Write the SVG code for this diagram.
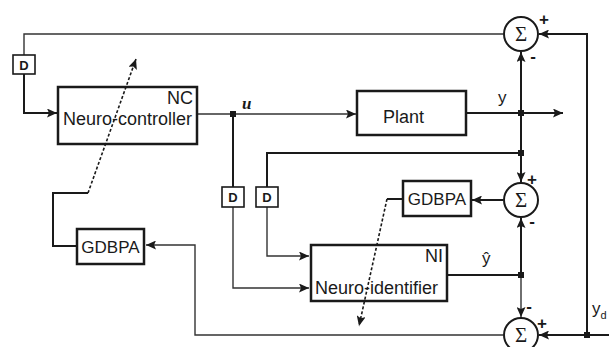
<svg xmlns="http://www.w3.org/2000/svg" width="609" height="347" viewBox="0 0 609 347">
<defs>
<marker id="ah" markerUnits="userSpaceOnUse" markerWidth="11" markerHeight="9" refX="10" refY="4.5" orient="auto">
<path d="M0,0 L10,4.5 L0,9 L2,4.5 z" fill="#1a1a1a"/>
</marker>
<style>
.box{fill:#fff;stroke:#1a1a1a;stroke-width:2.5}
.dbox{fill:#fff;stroke:#1a1a1a;stroke-width:1.6}
.ln{fill:none;stroke:#1a1a1a;stroke-width:2}
.thin{fill:none;stroke:#333;stroke-width:1.4}
.dot{fill:none;stroke:#1a1a1a;stroke-width:1.6;stroke-dasharray:3 2}
.sum{fill:#fff;stroke:#1a1a1a;stroke-width:2}
.t{font-family:"Liberation Sans",Arial,sans-serif;font-size:18px;fill:#1a1a1a}
.g{font-family:"Liberation Sans",Arial,sans-serif;font-size:17px;fill:#1a1a1a}
.d{font-family:"Liberation Sans",Arial,sans-serif;font-size:13px;font-weight:bold;fill:#1a1a1a}
.s{font-family:"Liberation Serif","Times New Roman",serif;font-size:21px;fill:#1a1a1a}
.pm{font-family:"Liberation Sans",Arial,sans-serif;font-size:17px;font-weight:bold;fill:#1a1a1a}
.jn{fill:#1a1a1a}
</style>
</defs>
<g id="connectors">
<path class="thin" d="M503,34 H24 V55"/>
<path class="ln" d="M24,74 V113 H57" marker-end="url(#ah)"/>
<path class="thin" d="M197,114 H356" marker-end="url(#ah)"/>
<path class="ln" d="M233,114 V187"/>
<path class="thin" d="M233,207 V288 H309" marker-end="url(#ah)"/>
<path class="ln" d="M466,113 H563" marker-end="url(#ah)"/>
<path class="ln" d="M521,113 V52" marker-end="url(#ah)"/>
<path class="ln" d="M521,113 V182" marker-end="url(#ah)"/>
<path class="ln" d="M521,153 H267 V187"/>
<path class="thin" d="M267,207 V256 H309" marker-end="url(#ah)"/>
<path class="ln" d="M503,200 H472" marker-end="url(#ah)"/>
<path class="ln" d="M403,199 H387"/>
<path class="ln" d="M447,275 H521"/>
<path class="ln" d="M521,275 V218" marker-end="url(#ah)"/>
<path class="thin" d="M521,275 V317" marker-end="url(#ah)"/>
<path class="ln" d="M609,335 H539" marker-end="url(#ah)"/>
<path class="ln" d="M587,335 V34 H539" marker-end="url(#ah)"/>
<path class="thin" d="M503,335 H195 V245 H146" marker-end="url(#ah)"/>
<path class="ln" d="M77,246 H53 V193 H88"/>
<rect class="jn" x="230" y="111" width="6" height="6"/>
<rect class="jn" x="518" y="110" width="6" height="6"/>
<rect class="jn" x="518" y="150" width="6" height="6"/>
<rect class="jn" x="518" y="272" width="6" height="6"/>
<rect class="jn" x="584" y="332" width="6" height="6"/>
</g>
<g id="D1"><rect class="dbox" x="13" y="55" width="22" height="19"/><text class="d" x="24" y="69.5" text-anchor="middle">D</text></g>
<g id="D2"><rect class="dbox" x="222" y="187" width="22" height="20"/><text class="d" x="233" y="202" text-anchor="middle">D</text></g>
<g id="D3"><rect class="dbox" x="256" y="187" width="22" height="20"/><text class="d" x="267" y="202" text-anchor="middle">D</text></g>
<g id="NC"><rect class="box" x="58" y="87" width="139" height="57"/><text class="t" x="193" y="104" text-anchor="end">NC</text><text class="t" x="63" y="125">Neuro-controller</text></g>
<g id="Plant"><rect class="box" x="357" y="91" width="109" height="44"/><text class="t" x="383" y="123">Plant</text></g>
<g id="NI"><rect class="box" x="311" y="245" width="136" height="56"/><text class="t" x="443" y="262" text-anchor="end">NI</text><text class="t" x="315" y="294">Neuro-identifier</text></g>
<g id="GDBPA1"><rect class="box" x="403" y="181" width="68" height="35"/><text class="g" x="437" y="205" text-anchor="middle">GDBPA</text></g>
<g id="GDBPA2"><rect class="box" x="77" y="229" width="67" height="35"/><text class="g" x="110.5" y="253" text-anchor="middle">GDBPA</text></g>
<g id="sum1"><circle class="sum" cx="521" cy="34" r="17"/><text class="s" x="521" y="41" text-anchor="middle">Σ</text><text class="pm" x="544" y="25" text-anchor="middle">+</text><text class="pm" x="533" y="62" text-anchor="middle">-</text></g>
<g id="sum2"><circle class="sum" cx="521" cy="200" r="17"/><text class="s" x="521" y="207" text-anchor="middle">Σ</text><text class="pm" x="532" y="185" text-anchor="middle">+</text><text class="pm" x="532" y="227" text-anchor="middle">-</text></g>
<g id="sum3"><circle class="sum" cx="521" cy="335" r="17"/><text class="s" x="521" y="342" text-anchor="middle">Σ</text><text class="pm" x="529" y="312" text-anchor="middle">-</text><text class="pm" x="542" y="329" text-anchor="middle">+</text></g>
<g id="dotted">
<path class="dot" d="M88,193 L136,59" marker-end="url(#ah)"/>
<path class="dot" d="M387,199 L359,326" marker-end="url(#ah)"/>
</g>
<g id="labels">
<text x="242" y="109" font-family="Liberation Serif,serif" font-size="17" font-style="italic" font-weight="bold" fill="#1a1a1a">u</text>
<text class="g" x="498" y="103">y</text>
<text class="g" x="482" y="264">ŷ</text>
<text class="g" x="592" y="314">y<tspan font-size="11" dy="5">d</tspan></text>
</g>
</svg>
